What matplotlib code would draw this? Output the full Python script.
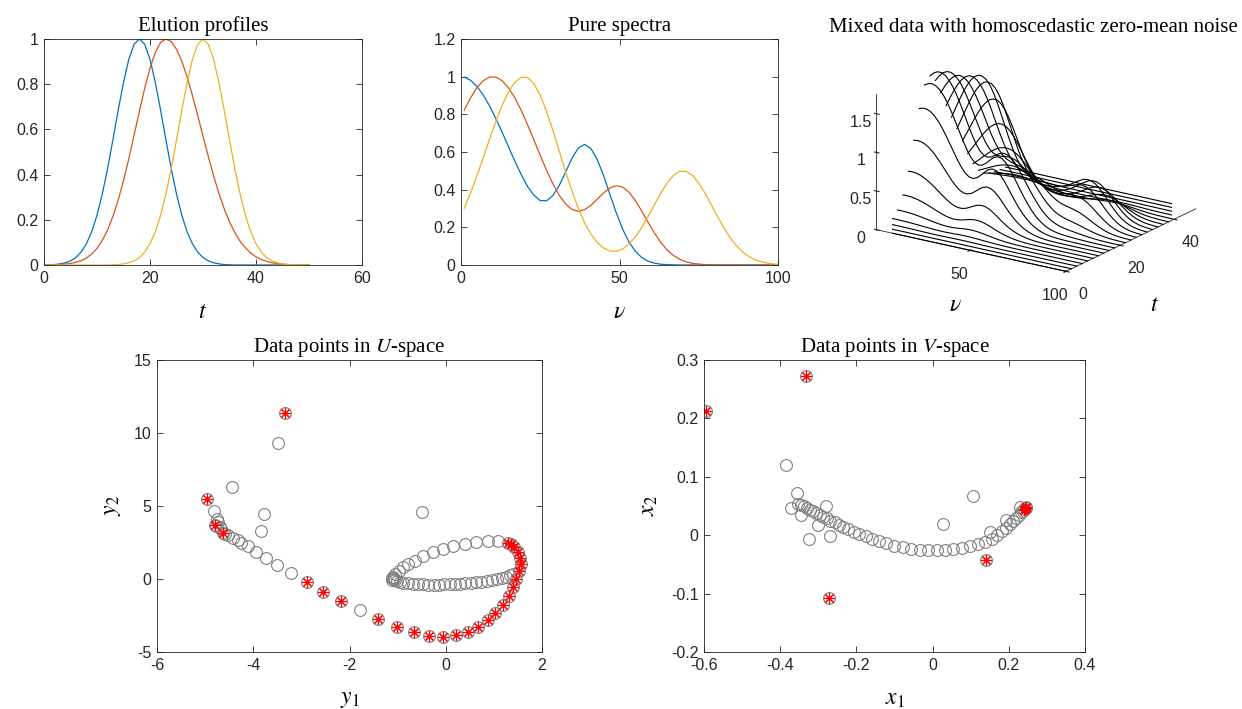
import numpy as np
import matplotlib.pyplot as plt
from matplotlib.ticker import FuncFormatter

plt.rcParams['font.family'] = ['Liberation Sans', 'DejaVu Sans']
plt.rcParams['mathtext.fontset'] = 'stix'
plt.rcParams['axes.unicode_minus'] = False

#------------------------------- elution profiles (t = 0..50) -------------------------------#
t = np.arange(0, 51)
elu_blue = [0.000, 0.001, 0.002, 0.005, 0.010, 0.018, 0.033, 0.057, 0.094, 0.147,
            0.220, 0.314, 0.427, 0.554, 0.685, 0.808, 0.910, 0.977, 1.000, 0.977,
            0.910, 0.808, 0.685, 0.554, 0.427, 0.314, 0.220, 0.147, 0.094, 0.057,
            0.033, 0.018, 0.010, 0.005, 0.002, 0.001, 0, 0, 0, 0,
            0, 0, 0, 0, 0, 0, 0, 0, 0, 0, 0]
elu_red = [0.000, 0.001, 0.001, 0.002, 0.004, 0.007, 0.012, 0.019, 0.031, 0.049,
           0.074, 0.109, 0.155, 0.215, 0.287, 0.373, 0.470, 0.575, 0.681, 0.782,
           0.871, 0.940, 0.985, 1.000, 0.989, 0.955, 0.902, 0.832, 0.751, 0.662,
           0.570, 0.480, 0.395, 0.317, 0.249, 0.191, 0.144, 0.105, 0.076, 0.053,
           0.036, 0.024, 0.016, 0.010, 0.006, 0.004, 0.002, 0.001, 0.001, 0.000, 0.000]
elu_yel = [0, 0, 0, 0, 0, 0, 0, 0, 0, 0,
           0, 0, 0.000, 0.001, 0.002, 0.005, 0.010, 0.018, 0.033, 0.057,
           0.094, 0.147, 0.220, 0.314, 0.427, 0.554, 0.685, 0.808, 0.910, 0.977,
           1.000, 0.977, 0.910, 0.808, 0.685, 0.554, 0.427, 0.314, 0.220, 0.147,
           0.094, 0.057, 0.033, 0.018, 0.010, 0.005, 0.002, 0.001, 0.001, 0.000, 0.000]

#------------------------------- pure spectra (nu = 1,3,..,99,100) -------------------------------#
nu = np.array(list(range(1, 100, 2)) + [100])
spec_blue = [0.998, 0.981, 0.949, 0.903, 0.845, 0.777, 0.704, 0.627, 0.551, 0.480,
             0.417, 0.370, 0.342, 0.341, 0.369, 0.422, 0.494, 0.566, 0.621, 0.640,
             0.618, 0.559, 0.474, 0.374, 0.276, 0.190, 0.122, 0.073, 0.040, 0.020,
             0.010, 0.004, 0.002, 0.001, 0, 0, 0, 0, 0, 0,
             0, 0, 0, 0, 0, 0, 0, 0, 0, 0, 0]
spec_red = [0.821, 0.887, 0.941, 0.978, 0.998, 0.998, 0.978, 0.941, 0.887, 0.821,
            0.745, 0.664, 0.582, 0.502, 0.431, 0.370, 0.324, 0.295, 0.285, 0.294,
            0.317, 0.350, 0.383, 0.410, 0.421, 0.414, 0.386, 0.342, 0.287, 0.227,
            0.171, 0.120, 0.080, 0.051, 0.030, 0.017, 0.009, 0.005, 0.002, 0.001,
            0, 0, 0, 0, 0, 0, 0, 0, 0, 0, 0]
spec_yel = [0.300, 0.382, 0.472, 0.569, 0.668, 0.763, 0.849, 0.920, 0.970, 0.997,
            0.996, 0.963, 0.901, 0.815, 0.714, 0.604, 0.495, 0.393, 0.301, 0.224,
            0.164, 0.119, 0.090, 0.074, 0.073, 0.085, 0.111, 0.149, 0.199, 0.257,
            0.320, 0.381, 0.435, 0.476, 0.497, 0.497, 0.476, 0.435, 0.381, 0.319,
            0.255, 0.196, 0.143, 0.100, 0.067, 0.043, 0.026, 0.016, 0.009, 0.005, 0.003]

# time samples shown in the mixed-data plot
t_mix = np.arange(0, 50, 2)

#------------------------------- U-space points -------------------------------#
u_pts = [(-3.34, 11.35), (-3.48, 9.29), (-4.45, 6.28), (-4.97, 5.48), (-4.82, 4.67),
         (-3.77, 4.45), (-3.84, 3.31), (-0.50, 4.57),
         (-4.76, 4.10), (-4.73, 3.87), (-4.80, 3.68), (-4.78, 3.60), (-4.69, 3.53),
         (-4.66, 3.40), (-4.62, 3.18), (-4.58, 3.10),
         (-4.52, 3.02), (-4.42, 2.84), (-4.32, 2.70), (-4.25, 2.50), (-4.11, 2.28),
         (-3.94, 1.82), (-3.74, 1.44), (-3.51, 0.96), (-3.21, 0.39),
         (-2.89, -0.23), (-2.55, -0.87), (-2.18, -1.51), (-1.79, -2.10), (-1.40, -2.74),
         (-1.02, -3.26), (-0.67, -3.65), (-0.34, -3.89), (-0.06, -3.94), (0.22, -3.86),
         (0.46, -3.66), (0.67, -3.29), (0.87, -2.83), (1.03, -2.35), (1.18, -1.81),
         (1.31, -1.18), (1.39, -0.58), (1.46, 0.00), (1.53, 0.57), (1.56, 1.03),
         (1.54, 1.42), (1.51, 1.83), (1.42, 2.17), (1.36, 2.40), (1.29, 2.47),
         (1.08, 2.62), (0.87, 2.62), (0.63, 2.51), (0.39, 2.40), (0.15, 2.28),
         (-0.06, 2.05), (-0.26, 1.83), (-0.47, 1.55), (-0.64, 1.25), (-0.78, 1.03),
         (-0.89, 0.80), (-0.98, 0.57), (-1.05, 0.34), (-1.09, 0.12), (-1.10, 0.08),
         (-1.12, 0.04), (-1.11, -0.04),
         (-1.08, 0.02), (-1.06, -0.08), (-1.02, -0.15), (-0.96, -0.21), (-0.88, -0.26),
         (-0.79, -0.30), (-0.69, -0.33), (-0.58, -0.35), (-0.47, -0.37), (-0.36, -0.38),
         (-0.25, -0.38), (-0.14, -0.38), (-0.03, -0.37), (0.08, -0.36), (0.19, -0.34),
         (0.30, -0.32), (0.41, -0.29), (0.52, -0.26), (0.63, -0.22), (0.74, -0.18),
         (0.85, -0.13), (0.96, -0.07), (1.06, 0.00), (1.16, 0.08), (1.25, 0.17),
         (1.33, 0.27), (1.40, 0.37)]
u_star = [(-3.34, 11.35), (-4.97, 5.48), (-4.80, 3.68), (-4.62, 3.18),
          (-2.89, -0.23), (-2.55, -0.87), (-2.18, -1.51), (-1.40, -2.74),
          (-1.02, -3.26), (-0.67, -3.65), (-0.34, -3.89), (-0.06, -3.94), (0.22, -3.86),
          (0.46, -3.66), (0.67, -3.29), (0.87, -2.83), (1.03, -2.35), (1.18, -1.81),
          (1.31, -1.18), (1.39, -0.58), (1.46, 0.00), (1.53, 0.57), (1.56, 1.03),
          (1.54, 1.42), (1.51, 1.83), (1.42, 2.17), (1.36, 2.40), (1.29, 2.47)]

#------------------------------- V-space points -------------------------------#
v_pts = [(-0.594, 0.213), (-0.332, 0.272), (-0.272, -0.107), (0.140, -0.042),
         (-0.385, 0.120), (-0.357, 0.073), (-0.371, 0.047), (-0.279, 0.050),
         (-0.325, -0.006), (-0.268, -0.001), (-0.301, 0.017), (-0.345, 0.034),
         (0.106, 0.067), (0.028, 0.019), (0.150, 0.005), (0.193, 0.026), (0.229, 0.049),
         (-0.352, 0.054), (-0.345, 0.052), (-0.338, 0.050), (-0.330, 0.047), (-0.322, 0.044),
         (-0.314, 0.041), (-0.305, 0.038), (-0.296, 0.035), (-0.287, 0.032), (-0.278, 0.029),
         (-0.268, 0.025), (-0.257, 0.022), (-0.246, 0.018), (-0.234, 0.014), (-0.221, 0.010),
         (-0.207, 0.006), (-0.192, 0.002), (-0.176, -0.002), (-0.159, -0.006), (-0.141, -0.010),
         (-0.122, -0.014), (-0.101, -0.018), (-0.079, -0.021), (-0.056, -0.023), (-0.033, -0.025),
         (-0.011, -0.026), (0.011, -0.026), (0.033, -0.025), (0.054, -0.023), (0.076, -0.022),
         (0.098, -0.019), (0.118, -0.015), (0.138, -0.011), (0.155, -0.006), (0.170, 0.000),
         (0.181, 0.007), (0.192, 0.013), (0.202, 0.019), (0.211, 0.025), (0.219, 0.030),
         (0.226, 0.035), (0.232, 0.039), (0.237, 0.042), (0.241, 0.045), (0.244, 0.047),
         (0.246, 0.049)]
v_star = [(-0.594, 0.213), (-0.332, 0.272), (-0.272, -0.107), (0.140, -0.042),
          (0.240, 0.043), (0.242, 0.045), (0.244, 0.047), (0.245, 0.048)]

#------------------------------- figure -------------------------------#
c_blue, c_red, c_yel = '#0072BD', '#D95319', '#EDB120'
axcol = '#262626'
serif = 'Liberation Serif'
fmt = FuncFormatter(lambda v, _: f'{v:g}')

fig = plt.figure(figsize=(12.42, 7.09), dpi=100)


def style(ax):
    for s in ax.spines.values():
        s.set_color(axcol)
        s.set_linewidth(0.6)
    ax.tick_params(direction='in', top=True, right=True, length=4, width=0.6,
                   labelsize=11.5, colors=axcol, pad=4)
    ax.xaxis.set_major_formatter(fmt)
    ax.yaxis.set_major_formatter(fmt)


W, H = 1242.0, 709.0


def rect(l, t_, r, b):
    return [l / W, 1 - b / H, (r - l) / W, (b - t_) / H]


# elution profiles
ax1 = fig.add_axes(rect(44, 39, 362, 265))
ax1.plot(t, elu_blue, color=c_blue, lw=0.9)
ax1.plot(t, elu_red, color=c_red, lw=0.9)
ax1.plot(t, elu_yel, color=c_yel, lw=0.9)
ax1.set_xlim(0, 60)
ax1.set_ylim(0, 1)
ax1.set_xticks([0, 20, 40, 60])
ax1.set_yticks([0, 0.2, 0.4, 0.6, 0.8, 1])
style(ax1)
ax1.set_title('Elution profiles', fontfamily=serif, fontsize=15, pad=6)
ax1.set_xlabel('$t$', fontsize=17, labelpad=11)

# pure spectra
ax2 = fig.add_axes(rect(461, 39, 778, 265))
ax2.plot(nu, spec_blue, color=c_blue, lw=0.9)
ax2.plot(nu, spec_red, color=c_red, lw=0.9)
ax2.plot(nu, spec_yel, color=c_yel, lw=0.9)
ax2.set_xlim(0, 100)
ax2.set_ylim(0, 1.2)
ax2.set_xticks([0, 50, 100])
ax2.set_yticks([0, 0.2, 0.4, 0.6, 0.8, 1, 1.2])
style(ax2)
ax2.set_title('Pure spectra', fontfamily=serif, fontsize=15, pad=6)
ax2.set_xlabel(r'$\nu$', fontsize=17, labelpad=11)

# mixed data
C = np.array([elu_blue, elu_red, elu_yel])[:, t_mix].T
S = np.array([spec_blue, spec_red, spec_yel])
D = C @ S
ax3 = fig.add_axes(rect(812, 15, 1252, 295), projection='3d')
ax3.set_proj_type('ortho')
for i, tm in enumerate(t_mix):
    ax3.plot(nu, np.full(len(nu), tm), D[i], color='k', lw=0.8)
ax3.view_init(elev=19, azim=-56)
ax3.set_box_aspect((1.02, 1.03, 0.64), zoom=1.235)
ax3.set_xlim(1, 100)
ax3.set_ylim(0, 48)
ax3.set_zlim(0, 1.76)
ax3.set_xticks([50, 100])
ax3.set_yticks([0, 20, 40])
ax3.set_zticks([0, 0.5, 1, 1.5])
ax3.zaxis.set_major_formatter(fmt)
ax3.zaxis._axinfo['juggled'] = (1, 2, 0)
ax3.grid(False)
for a in (ax3.xaxis, ax3.yaxis, ax3.zaxis):
    a.pane.fill = False
    a.pane.set_edgecolor('none')
    a.line.set_color(axcol)
    a.line.set_linewidth(0.6)
ax3.tick_params(labelsize=11.5, colors=axcol)
ax3.xaxis.set_tick_params(pad=1)
ax3.yaxis.set_tick_params(pad=1)
ax3.zaxis.set_tick_params(pad=-3)
fig.text(1033 / W, 1 - 27 / H, 'Mixed data with homoscedastic zero-mean noise',
         ha='center', va='center', fontfamily=serif, fontsize=15)
fig.text(955 / W, 1 - 305 / H, r'$\nu$', ha='center', va='center', fontsize=17)
fig.text(1155 / W, 1 - 305 / H, r'$t$', ha='center', va='center', fontsize=17)

# U-space
u_pts = np.array(u_pts)
u_star = np.array(u_star)
ax4 = fig.add_axes(rect(157, 360, 542, 652))
ax4.plot(u_pts[:, 0], u_pts[:, 1], 'o', mfc='none', mec='#808080', ms=8.5, mew=0.8)
ax4.plot(u_star[:, 0], u_star[:, 1], marker=(8, 2, 0), ls='none', color='red', ms=8, mew=0.8)
ax4.set_xlim(-6, 2)
ax4.set_ylim(-5, 15)
ax4.set_xticks([-6, -4, -2, 0, 2])
ax4.set_yticks([-5, 0, 5, 10, 15])
style(ax4)
ax4.set_title('Data points in $U$-space', fontfamily=serif, fontsize=15, pad=6)
ax4.set_xlabel('$y_1$', fontsize=17, labelpad=11)
ax4.set_ylabel('$y_2$', fontsize=17, labelpad=8)

# V-space
v_pts = np.array(v_pts)
v_star = np.array(v_star)
ax5 = fig.add_axes(rect(704, 360, 1085, 652))
ax5.plot(v_pts[:, 0], v_pts[:, 1], 'o', mfc='none', mec='#808080', ms=8.5, mew=0.8)
ax5.plot(v_star[:, 0], v_star[:, 1], marker=(8, 2, 0), ls='none', color='red', ms=8, mew=0.8)
ax5.set_xlim(-0.6, 0.4)
ax5.set_ylim(-0.2, 0.3)
ax5.set_xticks([-0.6, -0.4, -0.2, 0, 0.2, 0.4])
ax5.set_yticks([-0.2, -0.1, 0, 0.1, 0.2, 0.3])
style(ax5)
ax5.set_title('Data points in $V$-space', fontfamily=serif, fontsize=15, pad=6)
ax5.set_xlabel('$x_1$', fontsize=17, labelpad=11)
ax5.set_ylabel('$x_2$', fontsize=17, labelpad=8)

plt.savefig('out.png', dpi=100)
